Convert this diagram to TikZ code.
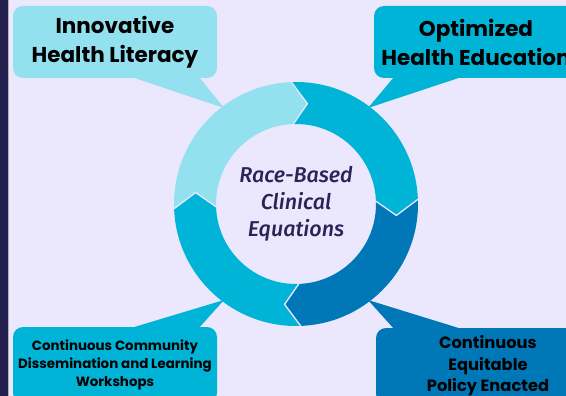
\documentclass[tikz,border=0pt]{standalone}
\usepackage{fontspec}
\setmainfont{Poppins}
\newfontfamily\centerfont{Fira Sans Medium}[ItalicFont={Fira Sans Medium Italic}]
\definecolor{bg}{HTML}{EBE8FD}
\definecolor{navy}{HTML}{231F4F}
\definecolor{cLight}{HTML}{93E0EF}
\definecolor{cTeal}{HTML}{00B4D8}
\definecolor{cDark}{HTML}{0077B6}
\definecolor{ctext}{HTML}{2A2556}
\tikzset{
  callout/.style={rounded corners=10pt, minimum width=204pt, minimum height=72pt, inner sep=0pt, align=center, font=\bfseries},
  sep/.style={draw=bg, line width=1.3pt, line join=miter},
}
\begin{document}
\begin{tikzpicture}[x=1pt,y=-1pt]
\fill[bg] (0,0) rectangle (566,396);
\useasboundingbox (0,0) rectangle (566,396);
\fill[navy] (0,0) rectangle (8,396);
\draw[gray!60, line width=0.8pt] (8.4,0) -- (8.4,396);

% callout boxes
\node[callout, fill=cLight, font=\bfseries\fontsize{21.5}{29}\selectfont] (tl) at (115,42) {Innovative\\Health Literacy};
\node[callout, fill=cTeal, font=\bfseries\fontsize{21.5}{29}\selectfont] (tr) at (476,42) {Optimized\\Health Education};
\node[callout, fill=cTeal, minimum height=76pt, font=\bfseries\fontsize{13.4}{18}\selectfont] (bl) at (115,365) {Continuous Community\\Dissemination and Learning\\Workshops};
\node[callout, fill=cDark, minimum width=224pt, minimum height=76pt, font=\bfseries\fontsize{16.3}{21.5}\selectfont] (br) at (488,366) {Continuous\\Equitable\\Policy Enacted};

% tails
\coordinate (ptl) at (224,108);
\coordinate (ptr) at (368,108);
\coordinate (pbl) at (224,300);
\coordinate (pbr) at (368,300);
\fill[cLight] ([xshift=20pt]tl.south) -- ([xshift=85pt]tl.south) -- (ptl) -- cycle;
\fill[cTeal] ([xshift=-83pt]tr.north |- tr.south) -- ([xshift=-18pt]tr.south) -- (ptr) -- cycle;
\fill[cTeal] ([xshift=20pt]bl.north) -- ([xshift=85pt]bl.north) -- (pbl) -- cycle;
\fill[cDark] ([xshift=-95pt]br.north) -- ([xshift=-30pt]br.north) -- (pbr) -- cycle;

% ring
\begin{scope}[shift={(296,204)}, yscale=-1]
\def\Ro{122}\def\Ri{80}\def\Rm{101}\def\dd{9}
\foreach \s/\e/\c in {182.5/92.5/cLight, 92.5/2.5/cTeal, 2.5/-87.5/cDark, -87.5/-177.5/cTeal}{
  \fill[\c] (\s:\Ro) arc[start angle=\s, end angle=\e, radius=\Ro] -- (\e-\dd:\Rm) -- (\e:\Ri)
     arc[start angle=\e, end angle=\s, radius=\Ri] -- (\s-\dd:\Rm) -- cycle;
}
\foreach \b in {92.5, 2.5, -87.5, 182.5}{
  \draw[sep] (\b:\Ro+1) -- (\b-\dd:\Rm) -- (\b:\Ri-1);
}
\node[font=\centerfont\itshape\fontsize{21.5}{27}\selectfont, text=ctext, align=center] (center) at (0,0) {Race-Based\\Clinical\\Equations};
\end{scope}
\end{tikzpicture}
\end{document}
